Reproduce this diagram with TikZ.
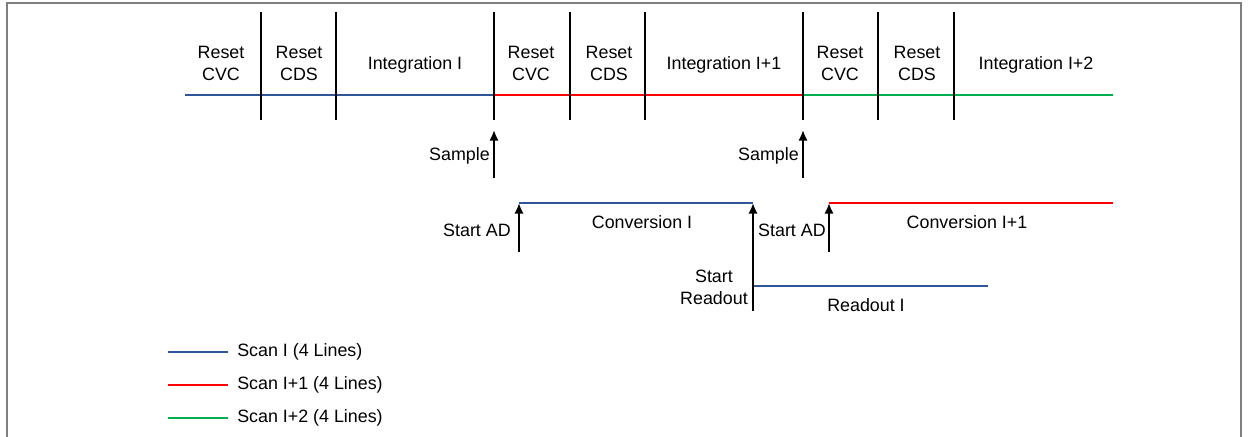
\documentclass[tikz,border=0pt]{standalone}
\usepackage{fontspec}
\setmainfont{Liberation Sans}
\usepackage{xcolor}
\usetikzlibrary{positioning}
\usetikzlibrary{arrows.meta}

\definecolor{scanblue}{RGB}{47,85,151}
\definecolor{scanred}{RGB}{255,0,0}
\definecolor{scangreen}{RGB}{0,176,80}
\definecolor{framegray}{RGB}{127,127,127}

\tikzset{
    lbl/.style={font=\fontsize{12.7}{15.6}\selectfont, align=center, inner sep=0pt},
    sepline/.style={black, line width=1.4pt},
    trig/.style={black, line width=1.4pt, ->},
    scanline/.style={line width=1.4pt},
    thinline/.style={line width=1.1pt}
}

\begin{document}
\begin{tikzpicture}[x=0.025cm, y=-0.025cm, >={Latex[length=7.5pt,width=6.5pt]}]
    \useasboundingbox (0,0) rectangle (1248,436);
    \draw[framegray, line width=1.4pt] (7,450) -- (7,3) -- (1241,3) -- (1241,450);

    % time line of the three scans
    \coordinate (t0) at (185,95);
    \coordinate (t1) at (494,95);
    \coordinate (t2) at (803,95);
    \coordinate (t3) at (1113,95);
    \draw[scanline, scanblue] (t0) -- (t1);
    \draw[scanline, scanred] (t1) -- (t2);
    \draw[scanline, scangreen] (t2) -- (t3);
    \foreach \x in {261,336,494,570,645,803,878,954}
        \draw[sepline] (\x,12) -- (\x,120);
    \foreach \x/\txt [count=\i] in {221/{Reset\\CVC}, 299/{Reset\\CDS},
                                    531/{Reset\\CVC}, 609/{Reset\\CDS},
                                    840/{Reset\\CVC}, 917/{Reset\\CDS}}
        \node[lbl] (reset\i) at (\x,63) {\txt};
    \foreach \x/\txt [count=\i] in {415/{Integration I}, 724/{Integration I+1}, 1036/{Integration I+2}}
        \node[lbl] (integ\i) at (\x,65) {\txt};

    % sample
    \coordinate (smpA) at (494,178);
    \coordinate (smpA top) at (494,130);
    \coordinate (smpB) at (803,178);
    \coordinate (smpB top) at (803,130);
    \draw[trig] (smpA) -- (smpA top);
    \draw[trig] (smpB) -- (smpB top);
    \node[lbl, anchor=east] (sampleA) at (490,156) {Sample};
    \node[lbl, anchor=east] (sampleB) at (799,156) {Sample};

    % conversion
    \coordinate (adA) at (519,252);
    \coordinate (adA top) at (519,203);
    \coordinate (ro) at (753,311);
    \coordinate (ro top) at (753,203);
    \coordinate (ro mid) at (753,286);
    \coordinate (ro end) at (988,286);
    \coordinate (adB) at (829,252);
    \coordinate (adB top) at (829,203);
    \coordinate (convB end) at (1113,203);
    \draw[thinline, scanblue] (adA top) -- (ro top);
    \draw[thinline, scanred] (adB top) -- (convB end);
    \draw[thinline, scanblue] (ro mid) -- (ro end);
    \draw[trig] (adA) -- (adA top);
    \draw[trig] (adB) -- (adB top);
    \draw[trig] (ro) -- (ro top);
    \node[lbl, anchor=east] (startA) at (511,230) {Start AD};
    \node[lbl] (convA) at (642,222) {Conversion I};
    \node[lbl, anchor=east] (startB) at (826,230) {Start AD};
    \node[lbl] (convB) at (967,222) {Conversion I+1};
    \node[lbl, anchor=east] (startRo) at (748,287) {Start\\Readout};
    \node[lbl] (readout) at (866,305) {Readout I};

    % legend
    \foreach \y/\col/\txt [count=\i] in {352/scanblue/{Scan I (4 Lines)},
                                         385/scanred/{Scan I+1 (4 Lines)},
                                         418/scangreen/{Scan I+2 (4 Lines)}} {
        \node[lbl, anchor=west] (leg\i) at (237,\y) {\txt};
        \coordinate (legA\i) at (168,\y);
        \coordinate (legB\i) at (228,\y);
        \draw[thinline, \col] (legA\i) -- (legB\i);
    }
\end{tikzpicture}
\end{document}
